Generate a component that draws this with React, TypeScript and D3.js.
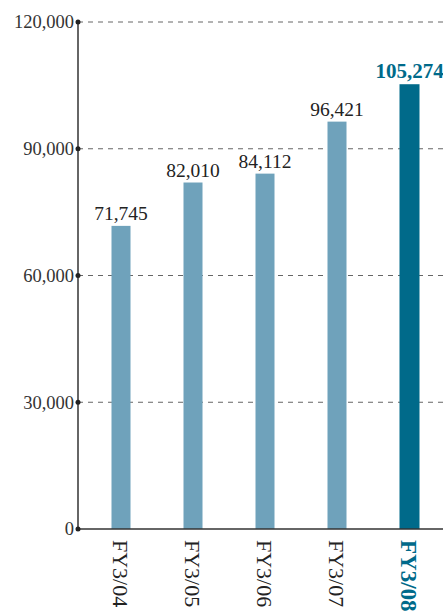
import React from "react";
import * as d3 from "d3";

const categories = ["FY3/04", "FY3/05", "FY3/06", "FY3/07", "FY3/08"];
const values = [71745, 82010, 84112, 96421, 105274];
const yTicks = [0, 30000, 60000, 90000, 120000];
const highlightIndex = 4;

const W = 443;
const H = 613;
const axisX = 78;
const yTop = 22;
const yBottom = 529;

export default function App() {
  const y = d3.scaleLinear().domain([0, 120000]).range([yBottom, yTop]);
  const x = d3.scaleBand<string>().domain(categories).range([85, 445]).padding(0);
  const barW = 19;
  const light = "#6fa2bb";
  const dark = "#006a8a";
  const fmt = d3.format(",");
  const font = "'Liberation Serif', 'Times New Roman', serif";

  return (
    <svg width={W} height={H} style={{ position: "absolute", left: 0, top: 0 }}>
      <rect width={W} height={H} fill="#fff" />
      {yTicks.slice(1).map((t) => (
        <line key={"g" + t} x1={axisX} x2={W} y1={y(t)} y2={y(t)} stroke="#666" strokeWidth={1} strokeDasharray="5,5" />
      ))}
      {values.map((v, i) => {
        const cx = (x(categories[i]) as number) + x.bandwidth() / 2;
        const hl = i === highlightIndex;
        return (
          <g key={categories[i]}>
            <rect x={cx - barW / 2} y={y(v)} width={hl ? barW + 1 : barW} height={yBottom - y(v)} fill={hl ? dark : light} />
            <text
              x={cx + (hl ? 0.5 : 0)}
              y={y(v) - 6}
              textAnchor="middle"
              fontFamily={font}
              fontSize={hl ? 21 : 19.5}
              fontWeight={hl ? "bold" : "normal"}
              fill={hl ? dark : "#222"}
            >
              {fmt(v)}
            </text>
            <text
              transform={`translate(${cx - 1},${yBottom + 11}) rotate(90)`}
              textAnchor="start"
              dominantBaseline="central"
              fontFamily={font}
              fontSize={hl ? 23 : 22}
              fontWeight={hl ? "bold" : "normal"}
              fill={hl ? dark : "#222"}
            >
              {categories[i]}
            </text>
          </g>
        );
      })}
      <line x1={axisX} x2={axisX} y1={yTop} y2={yBottom} stroke="#333" strokeWidth={1.5} />
      <line x1={axisX} x2={W} y1={yBottom} y2={yBottom} stroke="#333" strokeWidth={1.5} />
      {yTicks.map((t) => (
        <g key={"t" + t}>
          <circle cx={axisX} cy={y(t)} r={2.5} fill="#222" />
          <text x={axisX - 4} y={y(t)} dy="0.35em" textAnchor="end" fontFamily={font} fontSize={18.5} fill="#333">
            {fmt(t)}
          </text>
        </g>
      ))}
    </svg>
  );
}
